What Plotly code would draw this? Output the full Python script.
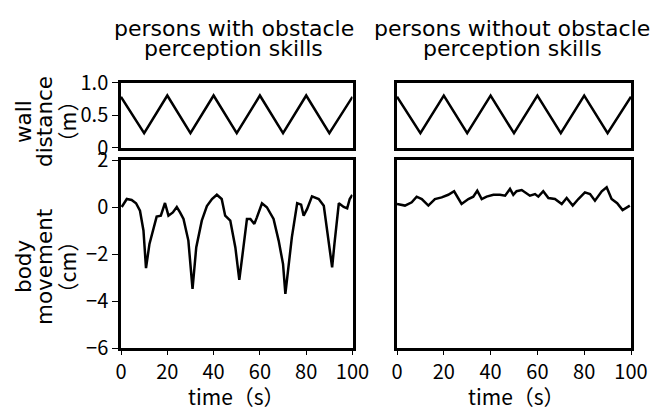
import plotly.graph_objects as go

# ---------------- data ----------------
wall_t = [0, 10, 20, 30, 40, 50, 60, 70, 80, 90, 100]
wall_d = [0.78, 0.22, 0.8, 0.22, 0.8, 0.22, 0.8, 0.22, 0.8, 0.22, 0.78]

with_t = [0.3, 2.5, 4.6, 6.5, 8.2, 9.7, 10.8, 12.3, 15.4, 17.2, 19.0, 20.5, 22.4, 24.1,
          25.5, 27.0, 29.1, 30.9, 32.5, 34.9, 37.1, 39.3, 41.4, 43.5, 45.0, 47.2, 49.4,
          51.1, 52.7, 54.4, 55.9, 57.6, 58.7, 60.9, 63.0, 65.9, 68.1, 70.0, 71.0, 72.4,
          73.8, 76.1, 77.8, 78.9, 80.4, 82.5, 85.4, 87.6, 89.7, 91.2, 92.2, 94.1, 96.2,
          97.7, 98.8, 99.9]
with_v = [0.0, 0.34, 0.3, 0.16, -0.16, -1.0, -2.6, -1.57, -0.41, -0.37, 0.17, -0.37, -0.23, 0.0,
          -0.23, -0.51, -1.43, -3.49, -1.72, -0.58, 0.04, 0.34, 0.52, 0.34, -0.37, -0.58, -1.72,
          -3.1, -1.86, -0.51, -0.51, -0.72, -0.44, 0.16, -0.01, -0.51, -1.43, -2.43, -3.7, -2.43,
          -1.29, 0.16, 0.1, -0.37, -0.08, 0.45, 0.34, 0.05, -1.57, -2.57, -1.57, 0.16, 0.0,
          -0.06, 0.34, 0.52]

without_t = [0.0, 3.4, 6.3, 8.4, 10.6, 13.4, 16.2, 19.1, 21.9, 24.4, 27.6, 30.5, 32.6, 34.3,
             36.2, 38.3, 41.2, 44.0, 46.2, 48.3, 49.7, 51.1, 53.3, 55.4, 56.8, 59.0, 60.4,
             62.5, 64.7, 67.5, 70.4, 72.5, 75.1, 77.5, 80.3, 82.5, 84.6, 87.5, 89.6, 91.7,
             94.1, 96.4, 98.1, 99.5]
without_v = [0.13, 0.06, 0.2, 0.44, 0.34, 0.06, 0.34, 0.41, 0.52, 0.67, 0.13, 0.34, 0.44, 0.69,
             0.34, 0.44, 0.52, 0.52, 0.48, 0.77, 0.52, 0.67, 0.72, 0.58, 0.48, 0.55, 0.44,
             0.67, 0.38, 0.34, 0.13, 0.38, 0.06, 0.34, 0.62, 0.55, 0.27, 0.67, 0.84, 0.34,
             0.16, -0.13, -0.01, 0.06]

col_titles = [["persons with obstacle", "perception skills"],
              ["persons without obstacle", "perception skills"]]
wall_label = ["wall", "distance", "（m）"]
body_label = ["body", "movement", "（cm）"]
x_title = "time（s）"
x_ticks = [0, 20, 40, 60, 80, 100]
wall_ticks = [0, 0.5, 1.0]
wall_ticktext = ["0", "0.5", "1.0"]
body_ticks = [-6, -4, -2, 0, 2]

# ---------------- layout helpers ----------------
W, H = 651, 410
def px(x):
    return x / W
def py(y):
    return 1 - y / H

TEXT_FONT = "DejaVu Sans"
TICK_FONT = "Noto Sans CJK JP"

fig = go.Figure()
line = dict(color="black", width=2.5)
fig.add_trace(go.Scatter(x=wall_t, y=wall_d, mode="lines", line=line, xaxis="x", yaxis="y"))
fig.add_trace(go.Scatter(x=wall_t, y=wall_d, mode="lines", line=line, xaxis="x2", yaxis="y2"))
fig.add_trace(go.Scatter(x=with_t, y=with_v, mode="lines", line=line, xaxis="x3", yaxis="y3"))
fig.add_trace(go.Scatter(x=without_t, y=without_v, mode="lines", line=line, xaxis="x4", yaxis="y4"))

frame = dict(showline=True, linecolor="black", linewidth=2.5, mirror=True,
             showgrid=False, zeroline=False, automargin=False)
tickfont = dict(family=TICK_FONT, size=20, color="black")

xl = [px(121), px(352.5)]
xr = [px(397), px(631)]
yt = [py(147.5), py(82.5)]
yb = [py(348), py(160)]

fig.update_layout(
    template="none",
    width=W, height=H, autosize=False,
    margin=dict(l=0, r=0, t=0, b=0, pad=0),
    paper_bgcolor="white", plot_bgcolor="white",
    showlegend=False,
    xaxis=dict(domain=xl, range=[0, 100], anchor="y", showticklabels=False, ticks="", **frame),
    yaxis=dict(domain=yt, range=[0, 1], anchor="x", tickvals=wall_ticks, ticktext=wall_ticktext,
               ticks="outside", ticklen=6, tickwidth=1, tickcolor="black", tickfont=tickfont, **frame),
    xaxis2=dict(domain=xr, range=[0, 100], anchor="y2", showticklabels=False, ticks="", **frame),
    yaxis2=dict(domain=yt, range=[0, 1], anchor="x2", showticklabels=False, ticks="", **frame),
    xaxis3=dict(domain=xl, range=[0, 100], anchor="y3", tickvals=x_ticks,
                ticks="outside", ticklen=4, tickwidth=1, tickcolor="black", tickfont=tickfont, **frame),
    yaxis3=dict(domain=yb, range=[-6, 2], anchor="x3", tickvals=body_ticks,
                ticks="outside", ticklen=6, tickwidth=1, tickcolor="black", tickfont=tickfont, **frame),
    xaxis4=dict(domain=xr, range=[0, 100], anchor="y4", tickvals=x_ticks,
                ticks="outside", ticklen=4, tickwidth=1, tickcolor="black", tickfont=tickfont, **frame),
    yaxis4=dict(domain=yb, range=[-6, 2], anchor="x4", showticklabels=False, ticks="", **frame),
)

ann = []
def text(x, y, s, size, angle=0, family=TEXT_FONT):
    ann.append(dict(x=px(x), y=py(y), xref="paper", yref="paper", text=s, showarrow=False,
                    xanchor="center", yanchor="middle", textangle=angle,
                    font=dict(family=family, size=size, color="black")))

# column titles
for cx, lines in zip([233.5, 512], col_titles):
    text(cx, 28, lines[0], 22)
    text(cx, 48, lines[1], 22)

# y-axis labels (three rotated lines each)
for xpos, s in zip([23, 44, 66], wall_label):
    text(xpos, 122, s, 21.5, -90, TICK_FONT if "（" in s else TEXT_FONT)
for xpos, s in zip([23, 44, 66], body_label):
    text(xpos, 267, s, 21.5, -90, TICK_FONT if "（" in s else TEXT_FONT)

# x-axis titles
text(236, 396, x_title, 21, 0, TICK_FONT)
text(516, 396, x_title, 21, 0, TICK_FONT)

fig.update_layout(annotations=ann)
fig.write_html("out.html", config={"displayModeBar": False},
               post_script="document.body.style.margin='0px';document.body.style.padding='0px';")
